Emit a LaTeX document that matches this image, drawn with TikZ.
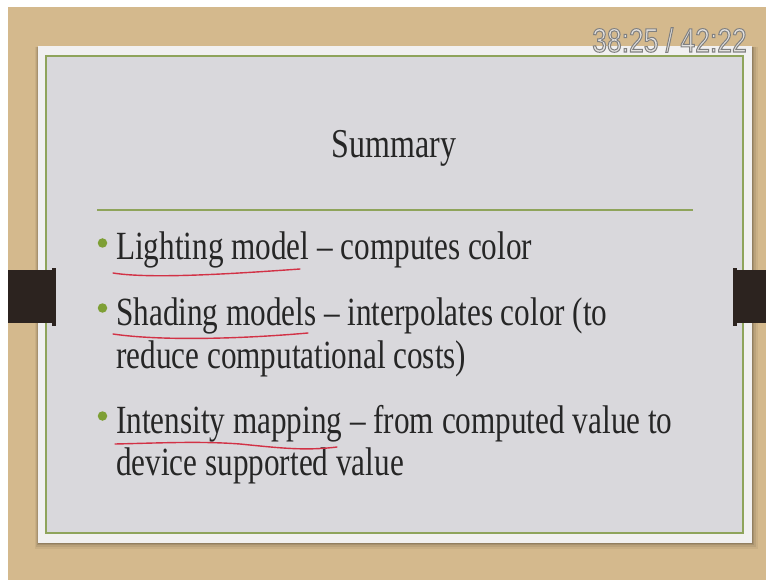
\documentclass[tikz,border=0pt]{standalone}
\usepackage{fontspec}
\newfontfamily\slidefont[FakeStretch=0.78]{Liberation Serif}
\newfontfamily\stampfont[FakeStretch=0.79, FakeBold=3]{Liberation Sans}

\definecolor{wood}{HTML}{D4B98D}
\definecolor{card}{HTML}{F1F0F0}
\definecolor{panel}{HTML}{D9D8DC}
\definecolor{olive}{HTML}{8FA45B}
\definecolor{bulletgreen}{HTML}{7E9F35}
\definecolor{pen}{HTML}{D23246}
\definecolor{clipbar}{HTML}{2C231F}
\definecolor{ink}{HTML}{262626}
\definecolor{stampfill}{HTML}{E4E2E0}

\tikzset{
  slidetext/.style={anchor=base west, inner sep=0pt, text=ink,
    font=\slidefont\fontsize{40}{40}\selectfont},
  titletext/.style={anchor=base, inner sep=0pt, text=ink,
    font=\slidefont\fontsize{41}{41}\selectfont},
  bulletdot/.style={circle, fill=bulletgreen, inner sep=0pt, minimum size=9.5pt},
  stamptext/.style={anchor=base, inner sep=0pt,
    font=\stampfont\fontsize{33.5}{33.5}\selectfont},
  penline/.style={pen, line width=1.4pt, line cap=round},
}

\begin{document}
\begin{tikzpicture}[x=1pt, y=-1pt]
\useasboundingbox (0,0) rectangle (766,580);

% wooden backdrop
\fill[white] (0,0) rectangle (766,580);
\fill[wood] (8,7) rectangle (766,580);

% soft shadow under the card
\foreach \s/\o in {6/0.05,4/0.07,2/0.10,1/0.12}
  \fill[black, opacity=\o] (38-\s/2,47) rectangle (752+\s,543+\s);

% card and framed panel
\fill[card] (38,46) rectangle (752,543);
\filldraw[fill=panel, draw=olive, line width=1.5pt] (46,56) rectangle (743,533);

% side clips
\fill[clipbar] (8,270) rectangle (53,323);
\fill[clipbar] (52,268) rectangle (55.5,326);
\fill[clipbar] (736,270) rectangle (766,323);
\fill[clipbar] (733,268) rectangle (737,326);

% title and rule
\node[titletext] (title) at (394,158) {Summary};
\draw[olive, line width=1.3pt] (97,210) -- (693,210);

% bullets
\node[bulletdot] (b1) at (102.5,243) {};
\node[bulletdot] (b2) at (102.5,308) {};
\node[bulletdot] (b3) at (102.5,416) {};

% bullet text
\node[slidetext] (l1) at (116,260) {Lighting model – computes color};
\node[slidetext] (l2) at (116,325) {Shading models – interpolates color (to};
\node[slidetext] (l3) at (116,368) {reduce computational costs)};
\node[slidetext] (l4) at (116,433) {Intensity mapping – from computed value to};
\node[slidetext] (l5) at (116,475) {device supported value};

% hand-drawn pen underlines
\draw[penline] (113,273) .. controls (150,279) and (230,274) .. (300,269);
\draw[penline] (113,334) .. controls (160,341) and (240,339) .. (308,333);
\draw[penline] (115,444) .. controls (160,443) and (200,441) .. (240,444)
                        .. controls (280,448) and (305,451) .. (337,447);

% playback time: light glyphs with a grey stroked outline
\node[stamptext] (stamp) at (669.5,52)
  {\color{stampfill}\special{pdf:literal direct 0.5 0.5 0.5 RG}38:25 / 42:22};
\end{tikzpicture}
\end{document}
